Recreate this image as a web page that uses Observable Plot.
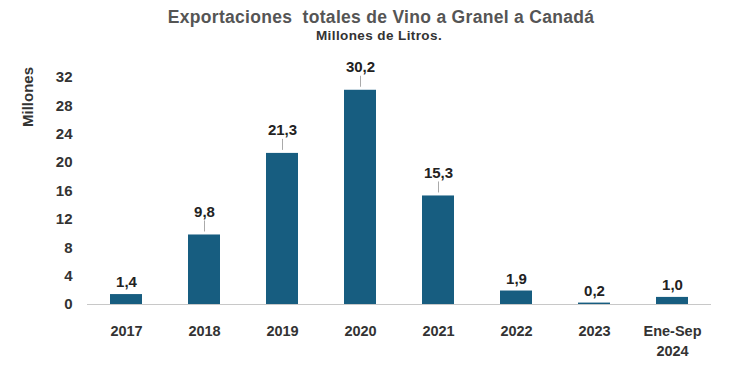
<!DOCTYPE html>
<html><head><meta charset="utf-8">
<script src="https://cdn.jsdelivr.net/npm/d3@7"></script>
<script src="https://cdn.jsdelivr.net/npm/@observablehq/plot@0.6"></script>
<style>
html,body{margin:0;padding:0;background:#fff;}
#wrap{position:relative;width:730px;height:366px;font-family:"Liberation Sans",Arial,sans-serif;}
#title{position:absolute;left:0;top:7px;width:762px;text-align:center;font-weight:bold;font-size:17.5px;letter-spacing:0.3px;color:#555;}
#sub{position:absolute;left:0;top:28px;width:758px;text-align:center;font-weight:bold;font-size:13.5px;letter-spacing:0.4px;color:#333;}
#ylab{position:absolute;left:27px;top:97px;transform:translate(-50%,-50%) rotate(-90deg);font-weight:bold;font-size:15px;color:#333;white-space:nowrap;}
#chart{position:absolute;left:0;top:45px;}
</style></head>
<body><div id="wrap">
<div id="title">Exportaciones&nbsp; totales de Vino a Granel a Canadá</div>
<div id="sub">Millones de Litros.</div>
<div id="ylab">Millones</div>
<div id="chart"></div>
</div>
<script>
const categories = ["2017","2018","2019","2020","2021","2022","2023","Ene-Sep\n2024"];
const values = [1.4, 9.8, 21.3, 30.2, 15.3, 1.9, 0.2, 1.0];
const labels = ["1,4","9,8","21,3","30,2","15,3","1,9","0,2","1,0"];
const yTicks = [0,4,8,12,16,20,24,28,32];

const data = categories.map((c,i)=>({cat:c, value:values[i], label:labels[i]}));
const big = data.filter(d=>d.value>=5);
const small = data.filter(d=>d.value<5);

const chart = Plot.plot({
  width: 730, height: 321,
  marginLeft: 87, marginRight: 19, marginTop: 32, marginBottom: 62,
  style: {fontFamily: '"Liberation Sans", Arial, sans-serif', fontSize: "14px", fontWeight: "bold", color: "#333"},
  x: {domain: categories, paddingInner: 0.59, paddingOuter: 0.295},
  y: {domain: [0, 32]},
  marks: [
    Plot.axisY({ticks: yTicks, tickSize: 0, tickPadding: 15, label: null, fontWeight: "bold", fontSize: 15, fill: "#333"}),
    Plot.axisX({tickSize: 0, tickPadding: 17, label: null, fontWeight: "bold", fontSize: 14.5, fill: "#333", lineHeight: 1.4}),
    Plot.barY(data, {x: "cat", y: "value", fill: "#175d80"}),
    Plot.ruleY([0], {stroke: "#c8c8c8", strokeWidth: 1.2}),
    Plot.ruleX(big, {x: "cat", y1: "value", y2: "value", insetTop: -14, insetBottom: 3, stroke: "#aaa", strokeWidth: 1}),
    Plot.text(big, {x: "cat", y: "value", text: "label", dy: -23, fontWeight: "bold", fontSize: 15, fill: "#222"}),
    Plot.text(small, {x: "cat", y: "value", text: "label", dy: -12, fontWeight: "bold", fontSize: 15, fill: "#222"})
  ]
});
document.getElementById("chart").appendChild(chart);
</script>
</body></html>
